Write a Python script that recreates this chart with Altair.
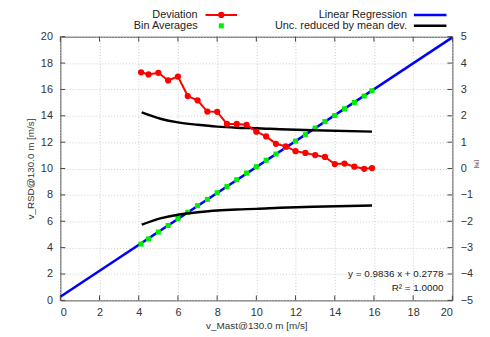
import altair as alt
import pandas as pd

# ---- data ----
bin_x = [4.12, 4.5, 5.0, 5.5, 6.0, 6.5, 7.0, 7.5, 8.0, 8.5, 9.0, 9.5, 10.0,
         10.5, 11.0, 11.5, 12.0, 12.5, 13.0, 13.5, 14.0, 14.5, 15.0, 15.5, 15.9]
bin_rsd = [4.27, 4.66, 5.18, 5.68, 6.21, 6.68, 7.18, 7.66, 8.17, 8.64, 9.15, 9.66, 10.14,
           10.63, 11.10, 11.60, 12.08, 12.57, 13.07, 13.56, 14.02, 14.53, 15.01, 15.50, 15.90]
deviation = [3.65, 3.57, 3.63, 3.34, 3.49, 2.75, 2.59, 2.16, 2.15, 1.69, 1.69, 1.66, 1.40,
             1.22, 0.94, 0.84, 0.66, 0.59, 0.51, 0.44, 0.17, 0.19, 0.07, -0.01, 0.02]

reg_x = [0, 20]
reg_y = [0.2778, 19.9498]

unc_x = [4.15, 5.15, 6.0, 7.0, 8.0, 9.0, 10.0, 11.2, 12.9, 15.9]
unc_upper = [2.13, 1.88, 1.75, 1.66, 1.59, 1.55, 1.53, 1.49, 1.45, 1.40]
unc_lower = [-2.13, -1.88, -1.75, -1.66, -1.59, -1.55, -1.53, -1.49, -1.45, -1.40]

x_ticks = [0, 2, 4, 6, 8, 10, 12, 14, 16, 18, 20]
y_ticks = [0, 2, 4, 6, 8, 10, 12, 14, 16, 18, 20]
y2_ticks = [-5, -4, -3, -2, -1, 0, 1, 2, 3, 4, 5]

W, H = 397, 267
FONT = "Liberation Sans"
LBL = "#333333"

bins_df = pd.DataFrame({"x": bin_x, "y": bin_rsd, "d": deviation})
reg_df = pd.DataFrame({"x": reg_x, "y": reg_y})
unc_df = pd.concat([
    pd.DataFrame({"x": unc_x, "d": unc_upper, "side": "upper"}),
    pd.DataFrame({"x": unc_x, "d": unc_lower, "side": "lower"}),
])
xt_df = pd.DataFrame({"x": x_ticks})
yt_df = pd.DataFrame({"y": y_ticks})
y2t_df = pd.DataFrame({"d": y2_ticks})
one = pd.DataFrame({"a": [0]})

xscale = alt.Scale(domain=[0, 20], nice=False)
yscale = alt.Scale(domain=[0, 20], nice=False)
y2scale = alt.Scale(domain=[-5, 5], nice=False)

xaxis = alt.Axis(values=x_ticks, title="v_Mast@130.0 m [m/s]", grid=True,
                 gridDash=[1, 2], gridColor="#cccccc", domain=False, ticks=False,
                 labelPadding=6, labelFont=FONT, labelFontSize=11, labelColor=LBL,
                 titleFont=FONT, titleFontSize=10, titleFontWeight="normal", titleColor=LBL,
                 titleX=W / 2, titleY=25, titleBaseline="middle")
yaxis = alt.Axis(values=y_ticks, title="v_RSD@130.0 m [m/s]", grid=True,
                 gridDash=[1, 2], gridColor="#cccccc", domain=False, ticks=False,
                 labelPadding=8, labelFont=FONT, labelFontSize=11, labelColor=LBL,
                 titleFont=FONT, titleFontSize=10, titleFontWeight="normal", titleColor=LBL,
                 titleX=-30, titleY=H / 2, titleAngle=-90, titleBaseline="middle")
y2axis = alt.Axis(values=y2_ticks, title="[%]", orient="right", grid=False,
                  domain=False, ticks=False, labelPadding=8, labelFont=FONT,
                  labelFontSize=11, labelColor=LBL,
                  titleFont=FONT, titleFontSize=6, titleFontWeight="normal", titleColor=LBL,
                  titleX=24, titleY=H / 2 - 5, titleAngle=90, titleBaseline="middle")

X = alt.X("x:Q", scale=xscale, axis=xaxis)
Y = alt.Y("y:Q", scale=yscale, axis=yaxis)
Y2 = alt.Y("d:Q", scale=y2scale, axis=y2axis)

# ---- left-axis group ----
reg = alt.Chart(reg_df).mark_line(color="#0000ff", strokeWidth=2.5).encode(x=X, y=Y)
bins = alt.Chart(bins_df).mark_point(shape="square", filled=True, size=26,
                                     color="#00ee00", opacity=1).encode(x=X, y=Y)

tick_col = "#444444"
bot_ticks = alt.Chart(xt_df).mark_rule(color=tick_col).encode(
    x=X, y=alt.value(H), y2=alt.value(H - 5))
top_ticks = alt.Chart(xt_df).mark_rule(color=tick_col).encode(
    x=X, y=alt.value(0), y2=alt.value(5))
left_ticks = alt.Chart(yt_df).mark_rule(color=tick_col).encode(
    y=Y, x=alt.value(0), x2=alt.value(5))

# legend
def txt(s, x, y, align="right", size=11):
    return alt.Chart(one).mark_text(text=s, align=align, baseline="middle",
                                    font=FONT, fontSize=size, color="#222222").encode(
        x=alt.value(x), y=alt.value(y))

R1, R2 = -22, -11
leg = [
    txt("Deviation", 139, R1),
    alt.Chart(one).mark_rule(color="#ff0000", strokeWidth=2).encode(
        x=alt.value(147), x2=alt.value(179), y=alt.value(R1)),
    alt.Chart(one).mark_point(shape="circle", filled=True, size=40, color="#ff0000",
                              opacity=1).encode(x=alt.value(163), y=alt.value(R1)),
    txt("Bin Averages", 139, R2),
    alt.Chart(one).mark_point(shape="square", filled=True, size=26, color="#00ee00",
                              opacity=1).encode(x=alt.value(163), y=alt.value(R2)),
    txt("Linear Regression", 351, R1),
    alt.Chart(one).mark_rule(color="#0000ff", strokeWidth=2.5).encode(
        x=alt.value(358), x2=alt.value(391), y=alt.value(R1)),
    txt("Unc. reduced by mean dev.", 351, R2),
    alt.Chart(one).mark_rule(color="#000000", strokeWidth=2.5).encode(
        x=alt.value(358), x2=alt.value(391), y=alt.value(R2)),
    txt("y = 0.9836 x + 0.2778", 388, 240, size=10),
    txt("R² = 1.0000", 388, 255, size=10),
]

left = alt.layer(reg, bins, bot_ticks, top_ticks, left_ticks, *leg)

# ---- right-axis group ----
dev_line = alt.Chart(bins_df).mark_line(color="#ff0000", strokeWidth=2).encode(x=X, y=Y2)
dev_pts = alt.Chart(bins_df).mark_point(shape="circle", filled=True, size=40,
                                        color="#ff0000", opacity=1).encode(x=X, y=Y2)
unc = alt.Chart(unc_df).mark_line(color="#000000", strokeWidth=2.5,
                                  interpolate="monotone").encode(
    x=X, y=Y2, detail="side:N")
right_ticks = alt.Chart(y2t_df).mark_rule(color=tick_col).encode(
    y=Y2, x=alt.value(W - 5), x2=alt.value(W))

right = alt.layer(unc, dev_line, dev_pts, right_ticks)

chart = alt.layer(left, right).resolve_scale(y="independent").properties(
    width=W, height=H,
    autosize=alt.AutoSizeParams(type="none"),
    padding={"left": 53, "top": 27, "right": 30, "bottom": 34},
    background="white",
).configure_view(stroke="#444444", strokeWidth=1)

chart.save("out.html", embed_options={"renderer": "svg", "actions": False})
